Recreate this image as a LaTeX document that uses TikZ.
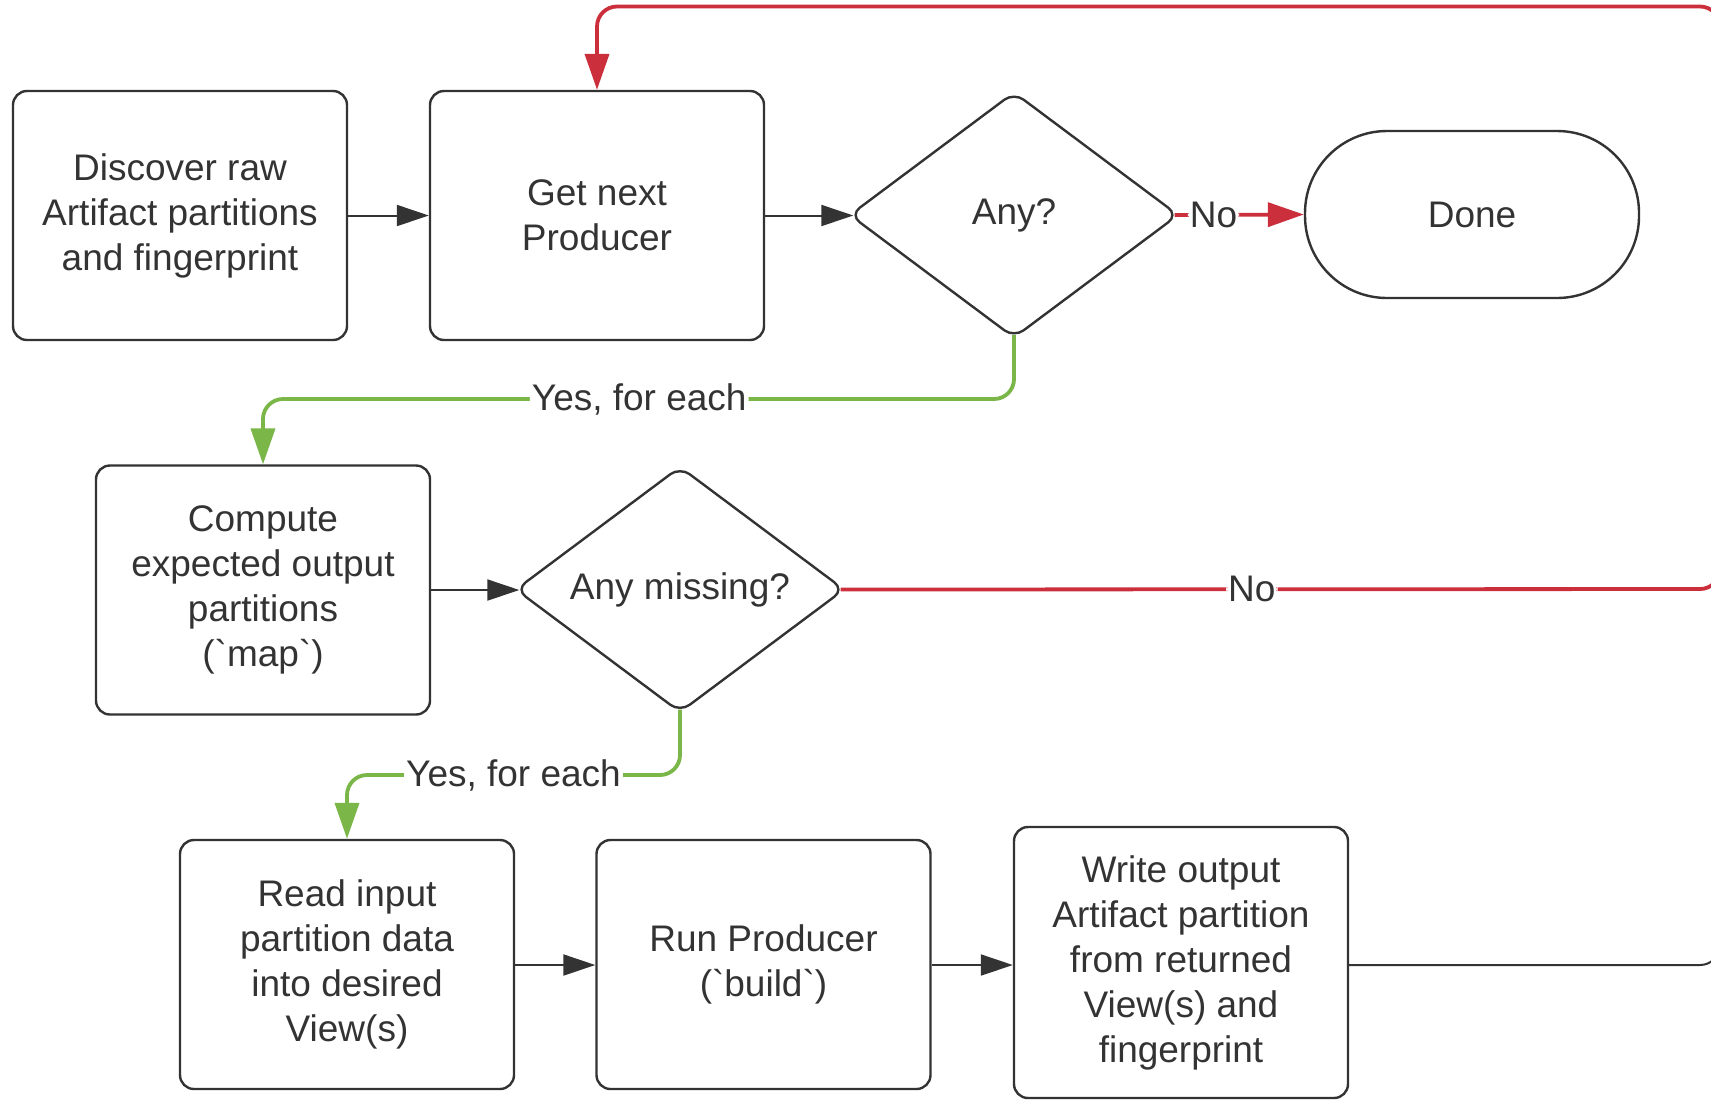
\documentclass[tikz,border=0pt]{standalone}
\usepackage{fontspec}
\setmainfont{Liberation Sans}
\usetikzlibrary{arrows.meta,shapes.geometric}
\definecolor{ink}{HTML}{333333}
\definecolor{lred}{HTML}{CC2F3C}
\definecolor{lgreen}{HTML}{7AB648}
\begin{document}
\begin{tikzpicture}[x=0.5pt,y=-0.5pt,
  every node/.style={font=\fontsize{18.5}{22.5}\selectfont, text=ink},
  box/.style={draw=ink, line width=1.2pt, rounded corners=7pt, minimum width=167pt, minimum height=124.5pt, align=center, inner sep=2pt},
  dia/.style={draw=ink, line width=1.2pt, diamond, rounded corners=6pt, minimum width=164.5pt, minimum height=123pt, aspect=1.34, inner sep=0pt, align=center},
  term/.style={draw=ink, line width=1.2pt, rounded corners=41pt, minimum width=167pt, minimum height=83.5pt, align=center},
  blk/.style={draw=ink, line width=1pt, -{Triangle[length=16pt,width=10.5pt]}},
  redl/.style={draw=lred, line width=1.9pt, rounded corners=10pt},
  greenl/.style={draw=lgreen, line width=1.9pt, rounded corners=10pt},
  ctip/.style={-{Triangle[length=18pt,width=12pt]}},
  lbl/.style={fill=white, inner sep=1pt},
]
\useasboundingbox (0,0) rectangle (1711,1099);
\clip (0,0) rectangle (1711,1099);
\node[box] (disc) at (180,215.5) {Discover raw\\Artifact partitions\\and fingerprint};
\node[box] (next) at (597,215.5) {Get next\\Producer};
\node[dia] (any) at (1014,215) {Any?};
\node[term] (done) at (1472,214.5) {Done};
\node[box] (comp) at (263,590) {Compute\\expected output\\partitions\\(\textasciigrave map\textasciigrave)};
\node[dia] (miss) at (680,589.5) {Any missing?};
\node[box] (read) at (347,964.5) {Read input\\partition data\\into desired\\View(s)};
\node[box] (run) at (763.5,964.5) {Run Producer\\(\textasciigrave build\textasciigrave)};
\node[box, minimum height=135.5pt] (write) at (1181,962.5) {Write output\\Artifact partition\\from returned\\View(s) and\\fingerprint};
\coordinate (r1) at (1720,589);
\coordinate (r0) at (1720,6.5);
\coordinate (t0) at (597,6.5);
\coordinate (r2) at (1720,965);
\coordinate (r3) at (1720,900);
\coordinate (g1) at (1014,399);
\coordinate (g2) at (263,399);
\coordinate (h1) at (680,775);
\coordinate (h2) at (347,775);
% black connectors
\draw[blk] (disc.east |- 0,215.5) -- (next.west |- 0,215.5);
\draw[blk] (next.east |- 0,215.5) -- ([xshift=2.5pt]any.west |- 0,215.5);
\draw[blk] (comp.east |- 0,590) -- ([xshift=2.5pt]miss.west |- 0,590);
\draw[blk] (read.east |- 0,965) -- (run.west |- 0,965);
\draw[blk] (run.east |- 0,965) -- (write.west |- 0,965);
\draw[draw=ink, line width=1pt, rounded corners=10pt] (write.east |- 0,965) -- (r2) -- (r3);
% red connectors
\draw[redl, ctip] ([xshift=-2.5pt]any.east) -- node[lbl, pos=0.3]{No} (done.west);
\draw[redl, ctip] ([xshift=-2.5pt]miss.east) -- node[lbl, pos=0.4676]{No} (r1) -- (r0) -- (t0) -- (next.north);
% green connectors
\draw[greenl, ctip] ([yshift=2pt]any.south) -- (g1) -- node[lbl, pos=0.499]{Yes, for each} (g2) -- (comp.north);
\draw[greenl, ctip] ([yshift=2pt]miss.south) -- (h1) -- node[lbl, pos=0.5]{Yes, for each} (h2) -- (read.north);
\end{tikzpicture}
\end{document}
